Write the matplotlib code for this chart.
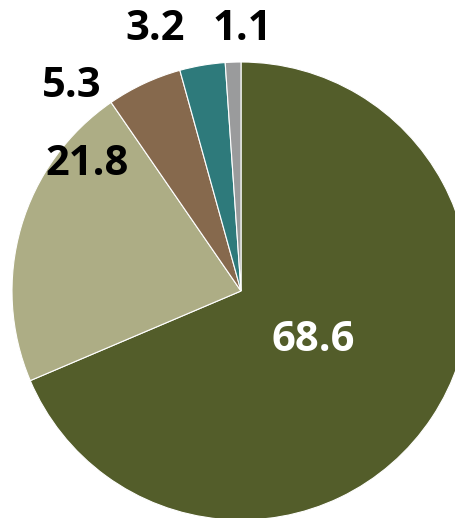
import matplotlib
matplotlib.use("Agg")
import matplotlib.pyplot as plt

values = [68.6, 21.8, 5.3, 3.2, 1.1]
labels = ["68.6", "21.8", "5.3", "3.2", "1.1"]
colors = ["#535d2a", "#adad85", "#86694d", "#2e7a7b", "#9a9b9c"]

# label positions in pie-radius units (radius = 1)
label_pos = [(0.314, -0.215), (-0.672, 0.553), (-0.738, 0.895), (-0.376, 1.140), (0.004, 1.140)]
label_colors = ["white", "black", "black", "black", "black"]

fig = plt.figure(figsize=(4.56, 5.18), dpi=100)
ax = fig.add_axes([0, 0, 1, 1])

ax.pie(values, colors=colors, startangle=90, counterclock=False,
       radius=1.0, wedgeprops=dict(edgecolor="white", linewidth=0.8))

for txt, (x, y), c in zip(labels, label_pos, label_colors):
    ax.text(x, y, txt, ha="center", va="center", color=c,
            fontsize=30, fontweight="bold", family=["Open Sans", "DejaVu Sans"])

r = 229.0
ax.set_xlim(-241 / r, (456 - 241) / r)
ax.set_ylim(-(518 - 291) / r, 291 / r)
ax.set_aspect("auto")
ax.axis("off")

fig.savefig("out.png", dpi=100)
